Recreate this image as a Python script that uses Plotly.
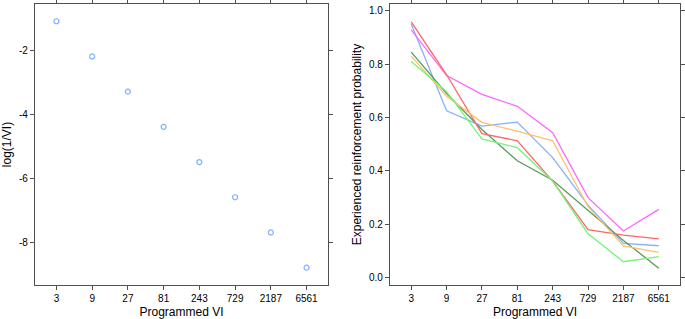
import numpy as np
import plotly.graph_objects as go

vi_labels = ["3", "9", "27", "81", "243", "729", "2187", "6561"]
vi_values = [3, 9, 27, 81, 243, 729, 2187, 6561]
log_inv_vi = [-1.0986, -2.1972, -3.2958, -4.3944, -5.4931, -6.5917, -7.6903, -8.7889]
left_ticks = [-2, -4, -6, -8]
left_ticktext = ["-2", "-4", "-6", "-8"]
right_ticks = [0.0, 0.2, 0.4, 0.6, 0.8, 1.0]

prob_blue = [0.950, 0.625, 0.568, 0.583, 0.450, 0.272, 0.129, 0.120]
prob_magenta = [0.928, 0.757, 0.687, 0.642, 0.543, 0.300, 0.175, 0.256]
prob_darkgreen = [0.845, 0.690, 0.555, 0.438, 0.365, 0.252, 0.140, 0.036]
prob_red = [0.958, 0.760, 0.540, 0.513, 0.362, 0.180, 0.160, 0.146]
prob_orange = [0.830, 0.680, 0.582, 0.549, 0.513, 0.266, 0.119, 0.095]
prob_green = [0.810, 0.697, 0.520, 0.487, 0.362, 0.165, 0.060, 0.079]

series = [
    (prob_blue, "#80b2ff"),
    (prob_magenta, "#ff66ff"),
    (prob_darkgreen, "#5c985c"),
    (prob_red, "#ff6666"),
    (prob_orange, "#ffc266"),
    (prob_green, "#73f573"),
]

idx = list(range(len(vi_labels)))

fig = go.Figure()
fig.add_trace(go.Scatter(
    x=idx, y=log_inv_vi, mode="markers",
    marker=dict(symbol="circle-open", size=5, color="#7fb0ff", line=dict(width=1.2, color="#7fb0ff")),
    xaxis="x", yaxis="y", showlegend=False))
for ys, col in series:
    fig.add_trace(go.Scatter(
        x=idx, y=ys, mode="lines", line=dict(color=col, width=1.3),
        xaxis="x2", yaxis="y2", showlegend=False))

font = "Liberation Sans, Arial, sans-serif"
axis_common = dict(
    showgrid=False, zeroline=False, showline=True, linecolor="#505050", linewidth=1.2,
    mirror="ticks", ticks="outside", ticklen=4, tickcolor="#505050",
    tickfont=dict(family=font, size=10, color="#000000"),
)

ydom = [34 / 319, 315 / 319]
fig.update_layout(
    width=685, height=319,
    margin=dict(l=0, r=0, t=0, b=0),
    paper_bgcolor="white", plot_bgcolor="white",
    font=dict(family=font, color="#000000"),
    xaxis=dict(domain=[35 / 685, 328 / 685], range=[-0.6, 7.6],
               tickvals=idx, ticktext=vi_labels, anchor="y",
               title=dict(text="Programmed VI", font=dict(family=font, size=12), standoff=5),
               **axis_common),
    yaxis=dict(domain=ydom, range=[-9.33, -0.56], tickvals=left_ticks, ticktext=left_ticktext, anchor="x",
               title=dict(text="log(1/VI)", font=dict(family=font, size=12), standoff=4),
               **axis_common),
    xaxis2=dict(domain=[390 / 685, 680 / 685], range=[-0.6, 7.6],
                tickvals=idx, ticktext=vi_labels, anchor="y2",
                title=dict(text="Programmed VI", font=dict(family=font, size=12), standoff=5),
                **axis_common),
    yaxis2=dict(domain=ydom, range=[-0.027, 1.025], tickvals=right_ticks,
                tickformat=".1f", anchor="x2",
                title=dict(text="Experienced reinforcement probability", font=dict(family=font, size=12), standoff=4),
                **axis_common),
)

fig.write_html("out.html", config={"displayModeBar": False},
               post_script="document.body.style.margin='0px';document.body.style.overflow='hidden';")
